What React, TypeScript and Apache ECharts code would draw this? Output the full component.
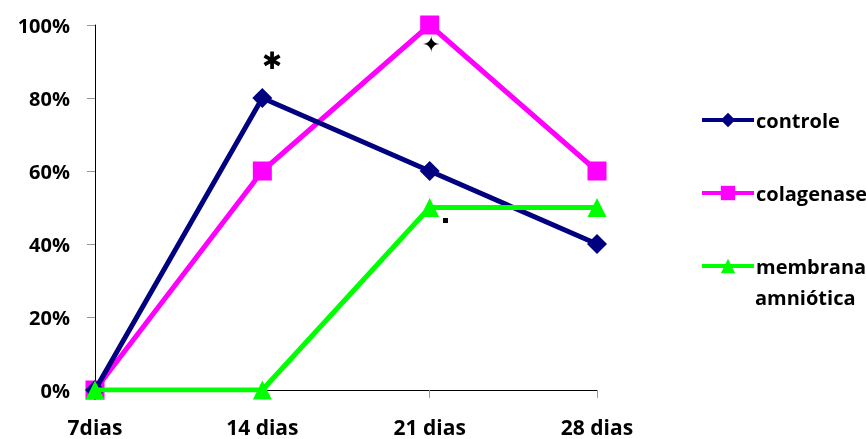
import React, { useEffect, useRef } from "react";
import * as echarts from "echarts";

const categories = ["7dias", "14 dias", "21 dias", "28 dias"];
const controle = [0, 0.8, 0.6, 0.4];
const colagenase = [0, 0.6, 1.0, 0.6];
const membrana = [0, 0, 0.5, 0.5];

const FONT = "'Open Sans', Lato, sans-serif";

export default function App() {
  const ref = useRef<HTMLDivElement>(null);
  useEffect(() => {
    if (!ref.current) return;
    const chart = echarts.init(ref.current, undefined, { renderer: "svg" });
    const mkLegend = (name: string, top: number, label: string) => ({
      data: [name],
      orient: "vertical",
      left: 700,
      top,
      padding: 0,
      itemWidth: 52,
      itemHeight: 18,
      itemGap: 0,
      lineStyle: { width: 4 },
      formatter: () => label,
      textStyle: { fontFamily: FONT, fontWeight: "bold", fontSize: 20, color: "#000", padding: [0, 0, 0, -3] },
      selectedMode: false,
    });
    chart.setOption({
      animation: false,
      grid: { left: 95, right: 269, top: 25, bottom: 49, containLabel: false },
      xAxis: {
        type: "category",
        data: categories,
        boundaryGap: false,
        axisLine: { lineStyle: { color: "#000", width: 1 } },
        axisTick: { show: true, alignWithLabel: true, length: 8, lineStyle: { color: "#999" } },
        axisLabel: { fontFamily: FONT, fontWeight: "bold", fontSize: 21, color: "#000", margin: 26 },
      },
      yAxis: {
        type: "value",
        min: 0,
        max: 1,
        interval: 0.2,
        axisLine: { show: true, lineStyle: { color: "#000", width: 1 } },
        axisTick: { show: true, length: 8, lineStyle: { color: "#999" } },
        splitLine: { show: false },
        axisLabel: {
          fontFamily: FONT,
          fontWeight: "bold",
          fontSize: 20,
          color: "#000",
          margin: 25,
          formatter: (v: number) => Math.round(v * 100) + "%",
        },
      },
      legend: [
        mkLegend("controle", 110, "controle"),
        mkLegend("colagenase", 183, "colagenase"),
        mkLegend("membrana", 256, "membrana"),
      ],
      graphic: [
        { type: "text", left: 755, top: 287, style: { text: "amniótica", font: `bold 20px ${FONT}`, fill: "#000" } },
        { type: "text", left: 262, top: 49, style: { text: "✱", font: `bold 24px 'DejaVu Sans'`, fill: "#000" } },
        { type: "text", left: 422, top: 33, style: { text: "✦", font: `22px 'DejaVu Sans'`, fill: "#000" } },
        { type: "rect", shape: { x: 443, y: 218, width: 5, height: 5 }, style: { fill: "#000" } },
      ],
      series: [
        {
          name: "controle",
          type: "line",
          data: controle,
          symbol: "diamond",
          symbolSize: 20,
          lineStyle: { color: "#000080", width: 5 },
          itemStyle: { color: "#000080" },
          z: 3,
        },
        {
          name: "colagenase",
          type: "line",
          data: colagenase,
          symbol: "rect",
          symbolSize: 19,
          lineStyle: { color: "#FF00FF", width: 5 },
          itemStyle: { color: "#FF00FF" },
          z: 2,
        },
        {
          name: "membrana",
          type: "line",
          data: membrana,
          symbol: "triangle",
          symbolSize: 19,
          lineStyle: { color: "#00FF00", width: 5 },
          itemStyle: { color: "#00FF00" },
          z: 4,
        },
      ],
    });
    return () => chart.dispose();
  }, []);
  return <div ref={ref} style={{ position: "fixed", left: 0, top: 0, width: 866, height: 439 }} />;
}
